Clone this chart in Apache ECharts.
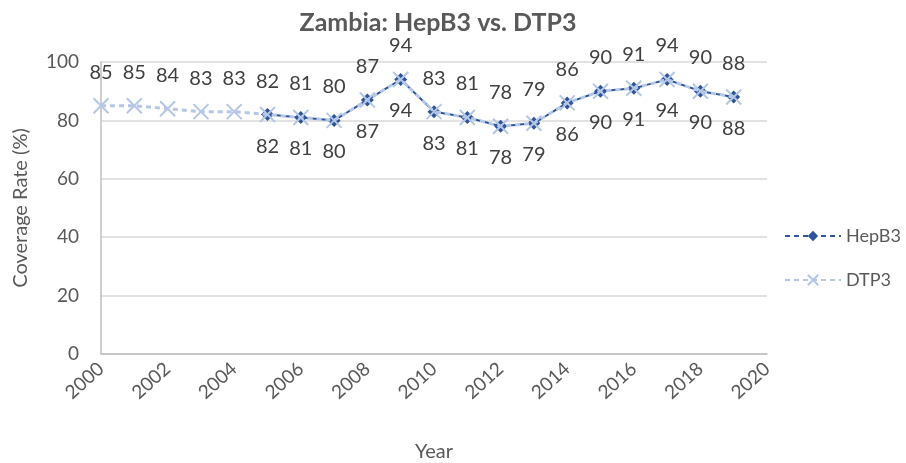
<!DOCTYPE html>
<html>
<head>
<meta charset="utf-8">
<script src="https://cdn.jsdelivr.net/npm/echarts@6/dist/echarts.min.js"></script>
<style>
  html, body { margin: 0; padding: 0; background: #fff; }
  #main { width: 906px; height: 463px; }
</style>
</head>
<body>
<div id="main"></div>
<script>
var dom = document.getElementById("main");
var myChart = echarts.init(dom, null, { renderer: "canvas" });

var yearsHep = [2005, 2006, 2007, 2008, 2009, 2010, 2011, 2012, 2013, 2014, 2015, 2016, 2017, 2018, 2019];
var hepB3 = [82, 81, 80, 87, 94, 83, 81, 78, 79, 86, 90, 91, 94, 90, 88];
var yearsDtp = [2000, 2001, 2002, 2003, 2004, 2005, 2006, 2007, 2008, 2009, 2010, 2011, 2012, 2013, 2014, 2015, 2016, 2017, 2018, 2019];
var dtp3 = [85, 85, 84, 83, 83, 82, 81, 80, 87, 94, 83, 81, 78, 79, 86, 90, 91, 94, 90, 88];

function pairs(xs, ys) {
  return xs.map(function (x, i) { return [x, ys[i]]; });
}

var font = "Lato, 'Open Sans', sans-serif";
var gray = "#595959";

var option = {
  backgroundColor: "#fff",
  title: {
    text: "Zambia: HepB3 vs. DTP3",
    left: 433,
    textAlign: "center",
    top: 5,
    textStyle: { fontFamily: font, fontSize: 25, fontWeight: "bold", color: gray },
  },
  legend: {
    orient: "vertical",
    left: 779,
    top: 222,
    itemGap: 26,
    itemWidth: 56,
    itemHeight: 13,
    textStyle: { fontFamily: font, fontSize: 18, color: gray },
    data: ["HepB3", "DTP3"],
  },
  grid: { left: 101, right: 139, top: 62, bottom: 109, outerBoundsMode: "none", containLabel: false },
  xAxis: {
    type: "value",
    min: 2000,
    max: 2020,
    interval: 2,
    name: "Year",
    nameLocation: "middle",
    nameGap: 88,
    nameTextStyle: { fontFamily: font, fontSize: 20, color: gray },
    axisLine: { lineStyle: { color: "#bfbfbf", width: 1.5 } },
    axisTick: { show: false },
    splitLine: { show: false },
    axisLabel: {
      rotate: 42,
      margin: 12,
      fontFamily: font,
      fontSize: 19,
      color: gray,
      formatter: function (v) { return String(v); },
    },
  },
  yAxis: {
    type: "value",
    min: 0,
    max: 100,
    interval: 20,
    name: "Coverage Rate (%)",
    nameLocation: "middle",
    nameGap: 70,
    nameTextStyle: { fontFamily: font, fontSize: 20, color: gray },
    axisLine: { show: true, lineStyle: { color: "#bfbfbf", width: 1.5 } },
    axisTick: { show: false },
    splitLine: { lineStyle: { color: "#d9d9d9", width: 1.5 } },
    axisLabel: { margin: 22, fontFamily: font, fontSize: 19, color: gray },
  },
  series: [
    {
      name: "HepB3",
      type: "line",
      data: pairs(yearsHep, hepB3),
      symbol: "diamond",
      symbolSize: 13,
      color: "#2f5597",
      lineStyle: { color: "#2f5597", width: 2, type: [5, 4] },
      itemStyle: { color: "#2f5597" },
      label: {
        show: true,
        position: "bottom",
        distance: 15,
        fontFamily: font,
        fontSize: 20,
        color: "#404040",
      },
      z: 2,
    },
    {
      name: "DTP3",
      type: "line",
      data: pairs(yearsDtp, dtp3),
      symbol: "path://M0,0 L10,10 M10,0 L0,10",
      symbolSize: 15,
      color: "#b4c7e7",
      lineStyle: { color: "#b4c7e7", width: 3, type: [5, 4] },
      itemStyle: { color: "transparent", borderColor: "#b4c7e7", borderWidth: 2 },
      label: {
        show: true,
        position: "top",
        distance: 15,
        fontFamily: font,
        fontSize: 20,
        color: "#404040",
      },
      z: 3,
    },
  ],
};

myChart.setOption(option);
window.addEventListener("resize", myChart.resize);
</script>
</body>
</html>
